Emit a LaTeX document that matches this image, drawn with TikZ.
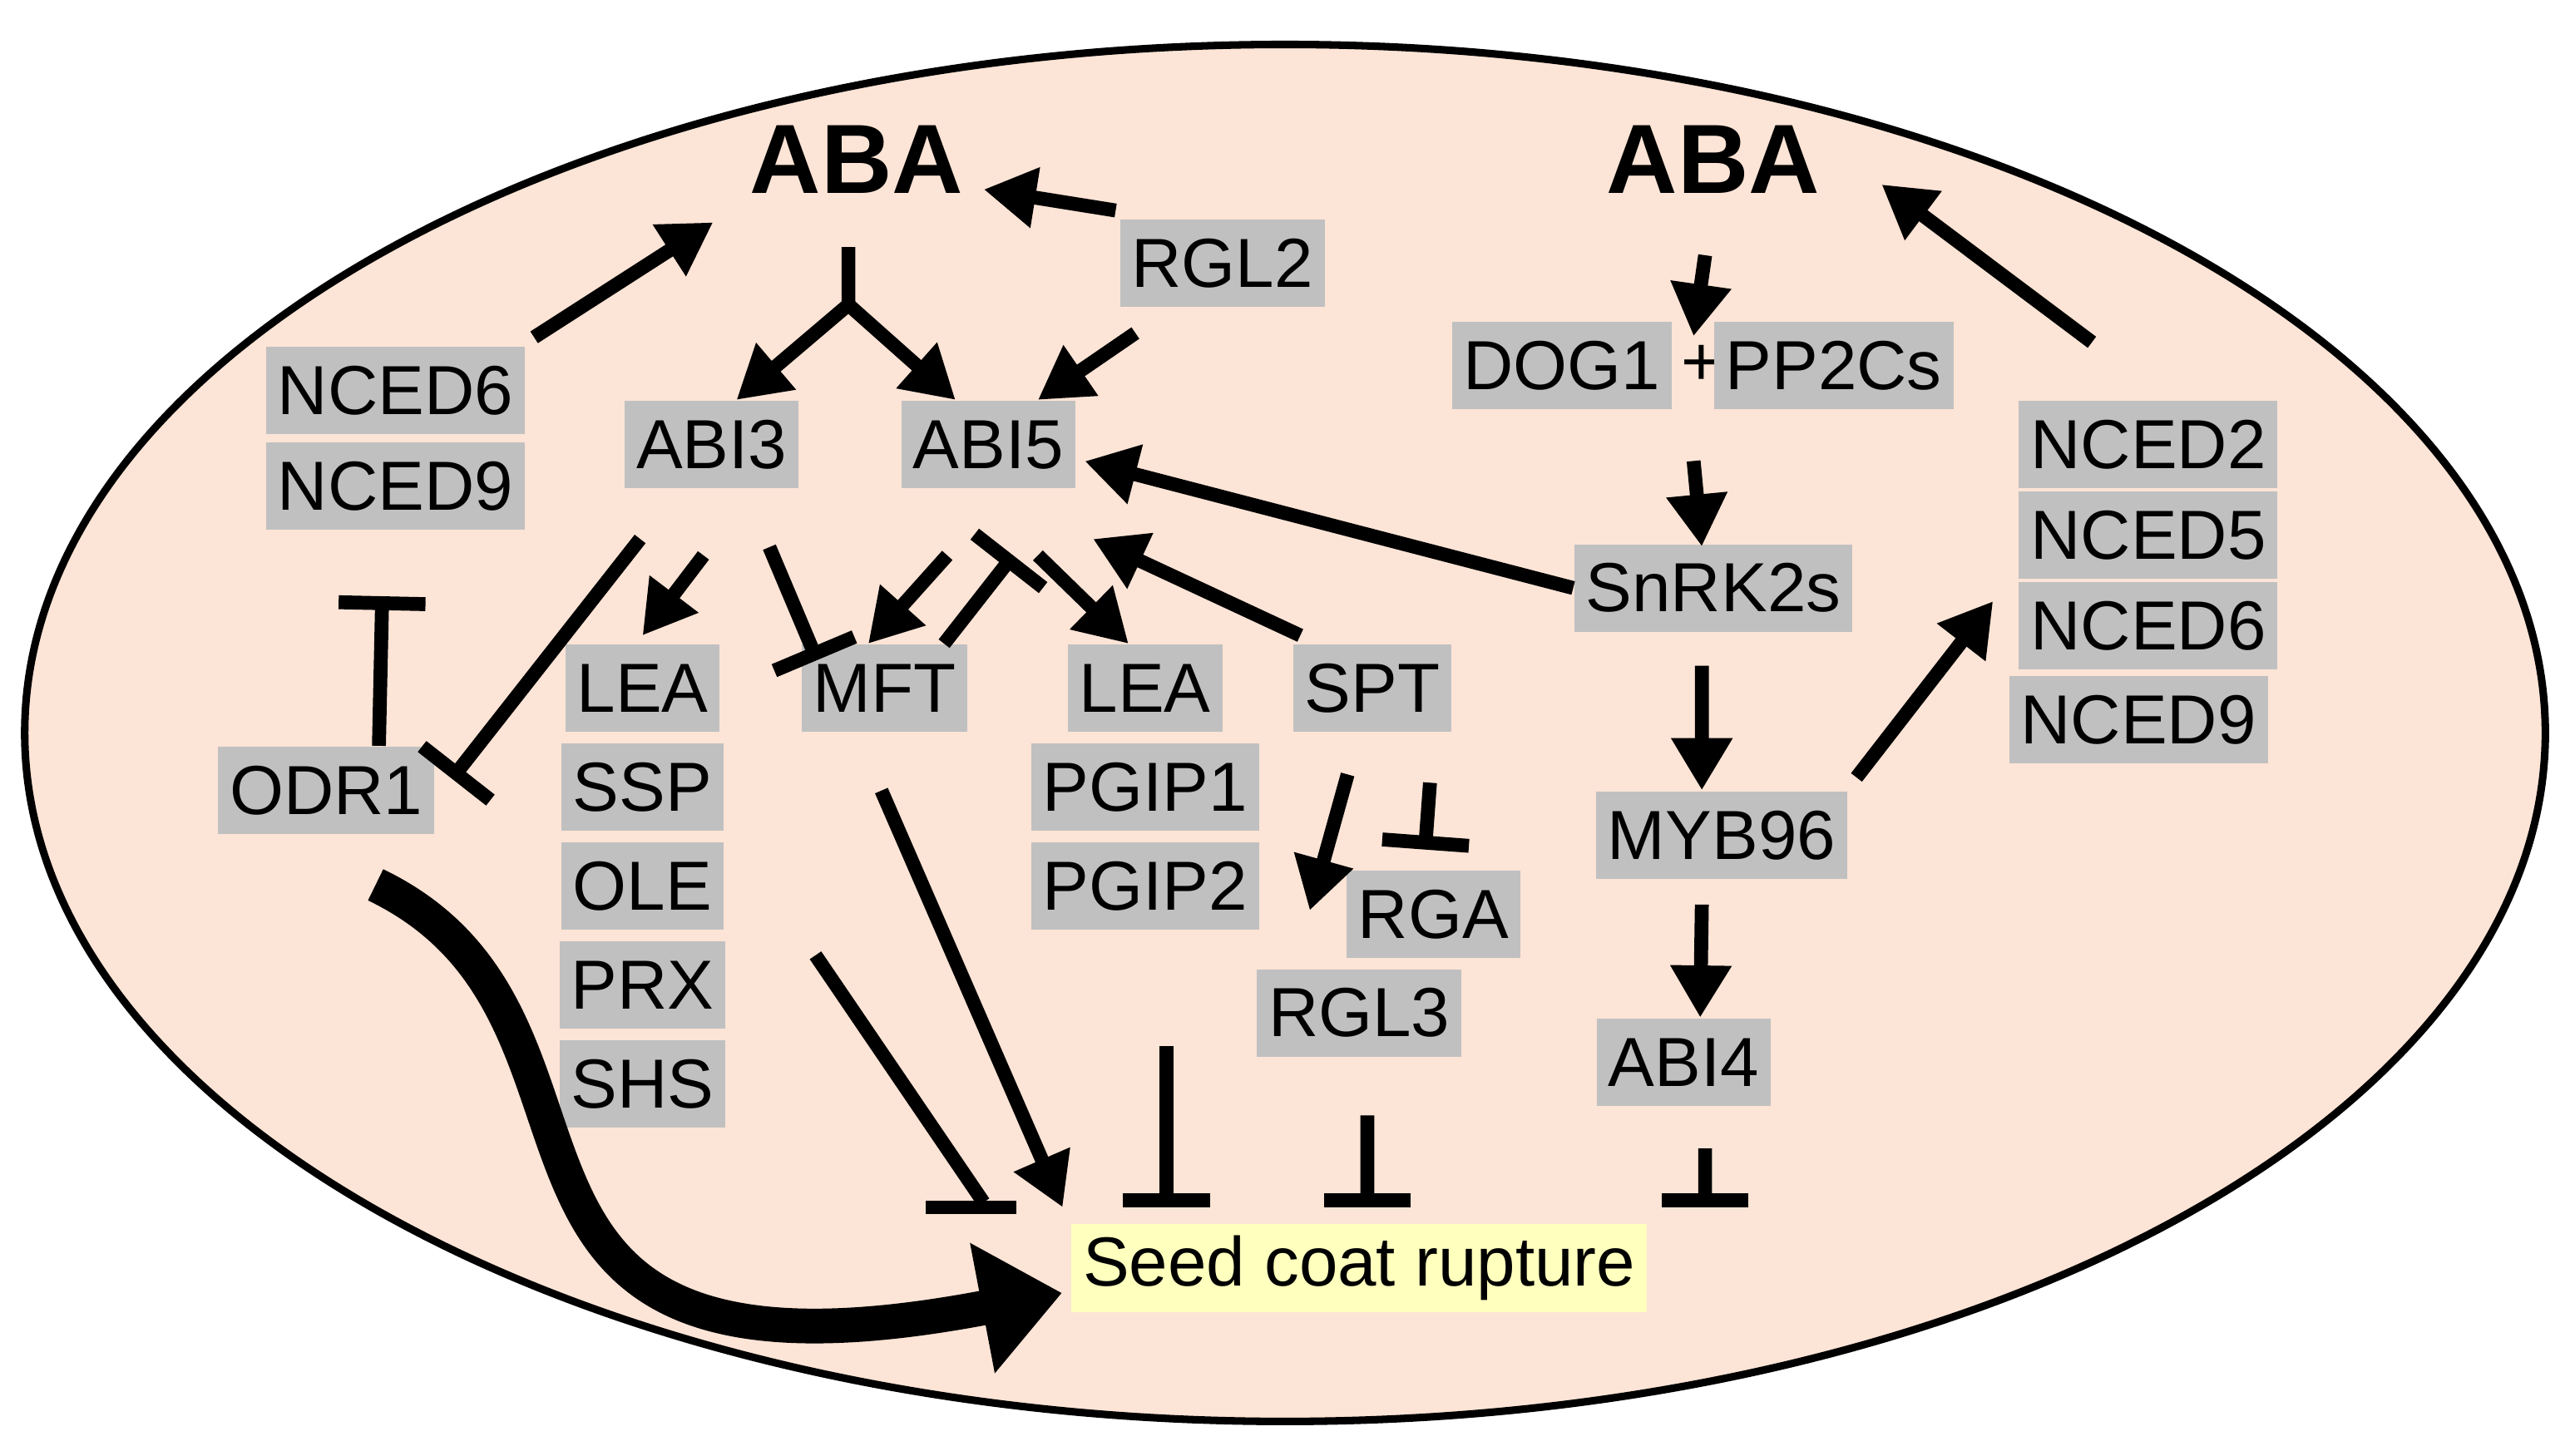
\documentclass[tikz,border=0pt]{standalone}
\usepackage{fontspec}
\setmainfont{Liberation Sans}
\usetikzlibrary{arrows.meta,calc}
\definecolor{cell}{RGB}{252,228,214}
\definecolor{gbox}{RGB}{192,192,192}
\definecolor{ybox}{RGB}{255,255,190}
\tikzset{
	gene/.style={fill=gbox, inner sep=2pt, minimum height=0.53cm, font=\fontsize{12}{14}\selectfont},
	aba/.style={font=\fontsize{17}{20}\selectfont\bfseries},
	act/.style={line width=2.4pt, -{Triangle[length=9pt,width=10pt]}},
	inh/.style={line width=2.4pt, -{Bar[width=15pt,line width=2.4pt]}},
}
\begin{document}
\begin{tikzpicture}
	\useasboundingbox (0,0) rectangle (15.6,-8.835);
	\draw[line width=1.3pt, fill=cell] (7.8,-4.45) ellipse (7.65 and 4.18);

	\node[aba](abaL) at (5.2,-0.97) {ABA};
	\node[aba](abaR) at (10.4,-0.97) {ABA};
	\node[gene](rgl2) at (7.42,-1.6) {RGL2};
	\node[gene](ncL6) at (2.4,-2.37) {NCED6};
	\node[gene](ncL9) at (2.4,-2.95) {NCED9};
	\node[gene](abi3) at (4.32,-2.7) {ABI3};
	\node[gene](abi5) at (6.0,-2.7) {ABI5};
	\node[gene](odr1) at (1.98,-4.8) {ODR1};
	\node[gene](lea1) at (3.9,-4.18) {LEA};
	\node[gene](ssp) at (3.9,-4.78) {SSP};
	\node[gene](ole) at (3.9,-5.38) {OLE};
	\node[gene](prx) at (3.9,-5.98) {PRX};
	\node[gene](shs) at (3.9,-6.58) {SHS};
	\node[gene](mft) at (5.37,-4.18) {MFT};
	\node[gene](lea2) at (6.95,-4.18) {LEA};
	\node[gene](pgip1) at (6.95,-4.78) {PGIP1};
	\node[gene](pgip2) at (6.95,-5.38) {PGIP2};
	\node[gene](spt) at (8.33,-4.18) {SPT};
	\node[gene](rga) at (8.7,-5.55) {RGA};
	\node[gene](rgl3) at (8.25,-6.15) {RGL3};
	\node[gene](dog1) at (9.48,-2.22) {DOG1};
	\node[font=\fontsize{12}{14}\selectfont, inner sep=0pt](plus) at (10.33,-2.22) {+};
	\node[gene](pp2c) at (11.13,-2.22) {PP2Cs};
	\node[gene](snrk) at (10.4,-3.57) {SnRK2s};
	\node[gene](myb) at (10.45,-5.07) {MYB96};
	\node[gene](abi4) at (10.22,-6.45) {ABI4};
	\node[gene](ncR2) at (13.04,-2.7) {NCED2};
	\node[gene](ncR5) at (13.04,-3.25) {NCED5};
	\node[gene](ncR6) at (13.04,-3.8) {NCED6};
	\node[gene](ncR9) at (12.98,-4.37) {NCED9};
	\node[gene, fill=ybox](seed) at (8.25,-7.7) {Seed coat rupture};

	\coordinate (fork) at (5.15,-1.85);
	\coordinate (bODR) at (2.32,-3.62);
	\coordinate (sA) at (4.95,-5.8);
	\coordinate (sB) at (5.35,-4.8);
	\coordinate (tA) at (5.97,-7.3);
	\coordinate (tA1) at (5.62,-7.33);
	\coordinate (tA2) at (6.17,-7.33);
	\coordinate (tB) at (6.45,-7.33);
	\coordinate (tC) at (7.08,-7.33);
	\coordinate (tD) at (8.3,-7.33);
	\coordinate (tE) at (10.35,-7.33);

	% left ABA module
	\draw[act](ncL6.north east) ++(0.05,0.05) -- ($(abaL.south west)+(-0.1,-0.05)$);
	\draw[act](rgl2.north west) ++(-0.02,0.05) -- (abaL.east |- 0,-1.15);
	\draw[line width=2.4pt](abaL.south) ++(-0.05,-0.2) -- (fork);
	\draw[act](fork) -- ($(abi3.north)+(0.15,0)$);
	\draw[act](fork) -- ($(abi5.north)+(-0.2,0)$);
	\draw[act](rgl2.south west) ++(0.1,-0.15) -- ($(abi5.north)+(0.3,0)$);
	\draw[act](snrk.west) -- ($(abi5.east)+(0.05,-0.1)$);
	\draw[act](spt.north west) ++(0.05,0.05) -- ($(abi5.south east)+(0.1,-0.3)$);
	\draw[inh](abi3.south west) ++(0.1,-0.3) -- ($(odr1.north east)+(0.1,-0.2)$);
	\draw[act](abi3.south) ++(-0.05,-0.4) -- ($(lea1.north)+(0,0.05)$);
	\draw[inh](abi3.south) ++(0.35,-0.35) -- ($(mft.north west)+(0.1,-0.1)$);
	\draw[act](abi5.south) ++(-0.25,-0.4) -- ($(mft.north)+(-0.1,0)$);
	\draw[inh](mft.north east) ++(-0.15,0) -- ($(abi5.south)+(0.15,-0.4)$);
	\draw[act](abi5.south) ++(0.3,-0.4) -- ($(lea2.north)+(-0.1,0)$);
	\draw[inh](odr1.north) ++(0.32,0) -- (bODR);
	\draw[act](spt.south) ++(-0.15,-0.25) -- ($(rgl3.north)+(-0.3,0.35)$);
	\draw[inh](spt.south) ++(0.35,-0.3) -- ($(rga.north)+(-0.05,0.12)$);

	% rupture
	\draw[line width=6pt, -{Triangle[length=14pt,width=22pt]}](odr1.south) ++(0.3,-0.3) .. controls (4.0,-6.2) and (2.5,-8.6) .. ($(seed.west)+(-0.05,-0.15)$);
	\draw[line width=2.4pt](sA) -- (tA);
	\draw[line width=2.4pt](tA1) -- (tA2);
	\draw[act](sB) -- (tB);
	\draw[inh](pgip2.south) ++(0.13,-0.7) -- (tC);
	\draw[inh](rgl3.south) ++(0.05,-0.35) -- (tD);
	\draw[inh](abi4.south) ++(0.13,-0.25) -- (tE);

	% right ABA module
	\draw[act](abaR.south) ++(-0.05,-0.25) -- ($(plus.north)+(-0.05,0.05)$);
	\draw[act](plus.south) ++(-0.05,-0.45) -- ($(snrk.north)+(-0.07,-0.02)$);
	\draw[act](snrk.south) ++(-0.07,-0.2) -- ($(myb.north)+(-0.12,0)$);
	\draw[act](myb.south) ++(-0.12,-0.15) -- ($(abi4.north)+(0.1,0)$);
	\draw[act](myb.east) ++(0.05,0.35) -- ($(ncR6.west)+(-0.15,0.15)$);
	\draw[act](ncR2.north west) ++(0.45,0.35) -- ($(abaR.east)+(0.25,-0.15)$);
\end{tikzpicture}
\end{document}
